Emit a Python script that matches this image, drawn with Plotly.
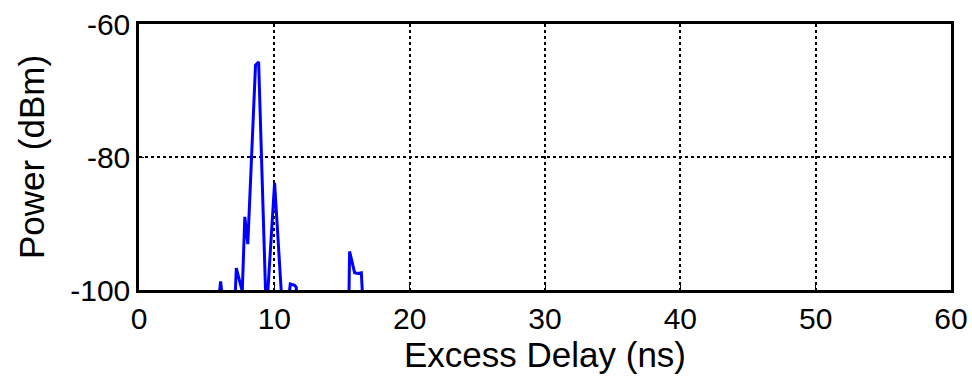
import plotly.graph_objects as go

# Data
delay_ns = [0, 5.95, 6.03, 6.12, 7.12, 7.19, 7.63, 7.82, 8.04, 8.61, 8.84, 9.35, 9.43,
            9.52, 10.02, 10.51, 10.6, 11.1, 11.18, 11.5, 11.62, 11.7,
            15.45, 15.52, 15.56, 15.93, 16.18, 16.43, 16.5, 16.6, 60]
power_dbm = [-110, -100.3, -98.7, -100.3, -100.3, -96.7, -100.2, -89.0, -93.1, -66.2, -65.7,
             -100.2, -110, -100.2, -83.9, -100.2, -110, -100.2, -99.1, -99.3, -99.6, -110,
             -110, -100.2, -94.2, -97.4, -97.5, -97.4, -100.2, -110, -110]

x_ticks = [0, 10, 20, 30, 40, 50, 60]
x_ticktext = ["0", "10", "20", "30", "40", "50", "60"]
y_ticks = [-100, -80, -60]
y_ticktext = ["-100", "-80", "-60"]

fig = go.Figure()
fig.add_trace(go.Scatter(x=delay_ns, y=power_dbm, mode="lines",
                         line=dict(color="#0000ff", width=3), showlegend=False))

font = "Liberation Sans, Arial, sans-serif"
fig.update_layout(
    width=972, height=383,
    margin=dict(l=139, r=21, t=24, b=93),
    paper_bgcolor="white", plot_bgcolor="white",
    font=dict(family=font, color="black"),
    xaxis=dict(range=[0, 60], tickvals=x_ticks, ticktext=x_ticktext, showgrid=True,
               gridcolor="black", griddash="dot", gridwidth=1.5, zeroline=False,
               showline=True, linecolor="black", linewidth=2.5, mirror=True,
               ticks="inside", ticklen=5, tickcolor="black", tickfont=dict(size=30),
               automargin=False,
               title=dict(text="Excess Delay (ns)", font=dict(size=35), standoff=1)),
    yaxis=dict(range=[-100, -60], tickvals=y_ticks, ticktext=y_ticktext, showgrid=True,
               gridcolor="black", griddash="dot", gridwidth=1.5, zeroline=False,
               showline=True, linecolor="black", linewidth=2.5, mirror=True,
               ticks="inside", ticklen=5, tickcolor="black", tickfont=dict(size=30),
               automargin=False,
               title=dict(text="Power (dBm)", font=dict(size=35), standoff=15)),
)

fig.write_html("out.html")
